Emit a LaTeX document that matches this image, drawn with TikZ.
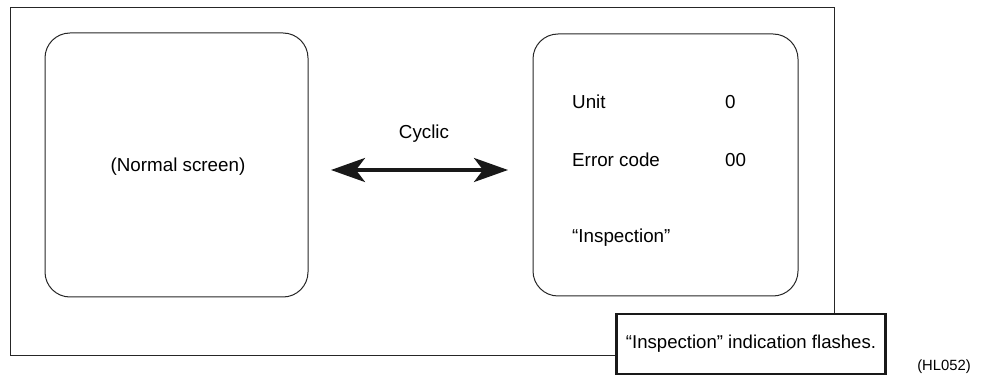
\documentclass[tikz,border=0pt]{standalone}
\usepackage{fontspec}
\setmainfont{Liberation Sans}
\usetikzlibrary{arrows.meta}
\begin{document}
\begin{tikzpicture}[x=1pt,y=-1pt,
  txt/.style={font=\fontsize{18.8}{22}\selectfont, inner sep=0pt},
  screen/.style={draw=black!85, line width=1pt, rounded corners=25pt},
  frame/.style={draw=black!85, line width=1pt},
  note/.style={draw=black!90, line width=2.2pt, fill=white, minimum width=269pt, minimum height=60pt, inner sep=0pt, font=\fontsize{18.6}{22}\selectfont},
  bigarrow/.style={line width=3.6pt, black!90, {Stealth[length=34pt,width=24pt,inset=9pt]}-{Stealth[length=34pt,width=24pt,inset=9pt]}}]
\useasboundingbox (0,0) rectangle (986,382);
\draw[frame] (10,8) rectangle (834,355);
\draw[screen] (45,33) rectangle (308,297);
\draw[screen] (533,34) rectangle (798,296);
\node[txt] (normal) at (178,167) {(Normal screen)};
\node[txt] (cyclic) at (424,134) {Cyclic};
\coordinate (al) at (331,170);
\coordinate (ar) at (508,170);
\draw[bigarrow] (al) -- (ar);
\node[txt, anchor=west] (unit) at (572,102) {Unit};
\node[txt, anchor=west] (unitv) at (725,102) {0};
\node[txt, anchor=west] (err) at (572,160) {Error code};
\node[txt, anchor=west] (errv) at (725,160) {00};
\node[txt, anchor=west] (insp) at (572,238) {“Inspection”};
\node[note] (flash) at (751,344) {“Inspection” indication flashes.};
\node[txt, font=\fontsize{14.8}{17}\selectfont] (code) at (944,367) {(HL052)};
\end{tikzpicture}
\end{document}
